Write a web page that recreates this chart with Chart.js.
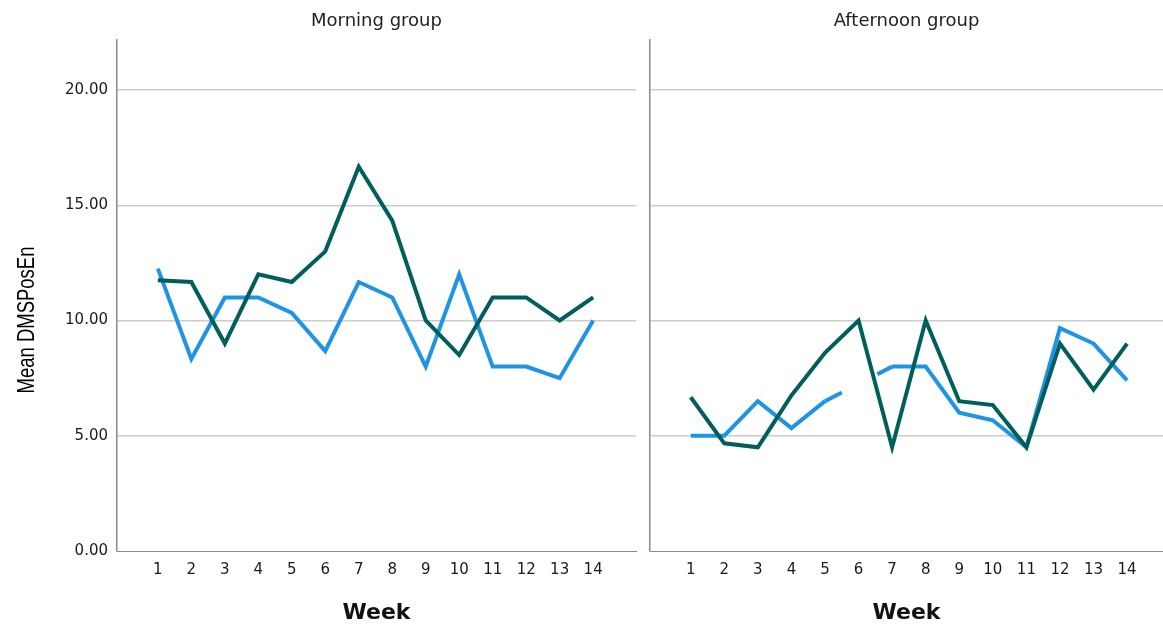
<!DOCTYPE html>
<html>
<head>
<meta charset="utf-8">
<script src="https://cdn.jsdelivr.net/npm/chart.js@4/dist/chart.umd.min.js"></script>
<style>
  html, body { margin: 0; padding: 0; background: #fff; }
  #wrap { position: relative; width: 1163px; height: 626px; overflow: hidden; }
  #left { position: absolute; left: 0; top: 0; }
  #right { position: absolute; left: 640px; top: 0; }
</style>
</head>
<body>
<div id="wrap">
  <canvas id="left" width="640" height="626"></canvas>
  <canvas id="right" width="523" height="626"></canvas>
</div>
<script>
// weeks on the x axis
const weeks = [1, 2, 3, 4, 5, 6, 7, 8, 9, 10, 11, 12, 13, 14];
const yTicks = [0, 5, 10, 15, 20];

// Morning group
const morningDark = [11.75, 11.67, 9.0, 12.0, 11.67, 13.0, 16.67, 14.33, 10.0, 8.5, 11.0, 11.0, 10.0, 11.0];
const morningLight = [12.25, 8.33, 11.0, 11.0, 10.33, 8.67, 11.67, 11.0, 8.0, 12.0, 8.0, 8.0, 7.5, 10.0];

// Afternoon group (week 6 missing for the light series)
const afternoonDark = [6.67, 4.67, 4.5, 6.75, 8.6, 10.0, 4.5, 10.0, 6.5, 6.33, 4.5, 9.0, 7.0, 9.0];
const afternoonLight = [5.0, 5.0, 6.5, 5.33, 6.5, null, 8.0, 8.0, 6.0, 5.67, 4.5, 9.67, 9.0, 7.4];

const DARK = "#005f5a";
const LIGHT = "#1f93e6";
const AXIS = "#8a8a8a";
const GRID = "#cccccc";
const FONT = "'DejaVu Sans', 'Liberation Sans', Arial, sans-serif";

// the light line is broken where a week is missing
function gapDash(ctx) {
  if (!ctx.p0.skip && !ctx.p1.skip) return undefined;
  const pts = ctx.chart.getDatasetMeta(ctx.datasetIndex).data;
  const a = pts[ctx.p0.skip ? ctx.p0DataIndex - 1 : ctx.p0DataIndex];
  const b = pts[ctx.p1.skip ? ctx.p1DataIndex + 1 : ctx.p1DataIndex];
  if (!a || !b) return undefined;
  const L = Math.hypot(b.x - a.x, b.y - a.y);
  return [L * 0.25, L * 0.53, L];
}

// condensed y title, like the original
const yTitle = {
  id: "yTitle",
  afterDraw(chart, args, opts) {
    if (!opts.text) return;
    const c = chart.ctx;
    c.save();
    c.translate(27, 320);
    c.rotate(-Math.PI / 2);
    c.scale(0.77, 1);
    c.font = "24px 'Liberation Sans', Arial, sans-serif";
    c.fillStyle = "#000";
    c.textAlign = "center";
    c.textBaseline = "middle";
    c.fillText(opts.text, 0, 0);
    c.restore();
  },
};

function makeChart(id, title, dark, light, opts) {
  const ctx = document.getElementById(id).getContext("2d");
  return new Chart(ctx, {
    type: "line",
    data: {
      labels: weeks,
      datasets: [
        {
          label: "dark",
          data: dark,
          borderColor: DARK,
          borderWidth: 4,
          pointRadius: 0,
          tension: 0,
          borderJoinStyle: "miter",
          order: 0,
        },
        {
          label: "light",
          data: light,
          borderColor: LIGHT,
          borderWidth: 4,
          pointRadius: 0,
          tension: 0,
          borderJoinStyle: "miter",
          spanGaps: true,
          segment: { borderDash: gapDash },
          order: 1,
        },
      ],
    },
    plugins: [yTitle],
    options: {
      responsive: false,
      animation: false,
      devicePixelRatio: 1,
      layout: { padding: { left: 0, right: opts.padRight, top: 0, bottom: 0 } },
      plugins: {
        legend: { display: false },
        tooltip: { enabled: false },
        yTitle: { text: opts.yTitle },
      },
      scales: {
        x: {
          type: "linear",
          position: "bottom",
          min: opts.xMin,
          max: opts.xMax,
          afterBuildTicks: (scale) => {
            scale.ticks = weeks.map((w) => ({ value: w }));
          },
          afterFit: (scale) => {
            scale.height = 75;
          },
          grid: { display: false, drawTicks: false },
          border: { display: true, color: AXIS, width: 1 },
          ticks: {
            padding: 10,
            color: "#1a1a1a",
            font: { family: FONT, size: 15 },
            autoSkip: false,
            maxRotation: 0,
          },
          title: {
            display: true,
            text: "Week",
            color: "#111",
            font: { family: FONT, size: 22, weight: "bold" },
            padding: { top: 0, bottom: 0 },
          },
        },
        x2: {
          type: "linear",
          position: "top",
          afterFit: (scale) => {
            scale.height = 40;
          },
          grid: { display: false, drawTicks: false },
          border: { display: false },
          ticks: { display: false },
          title: {
            display: true,
            text: title,
            color: "#222",
            font: { family: FONT, size: 18 },
            padding: { top: 11, bottom: 0 },
          },
        },
        y: {
          min: 0,
          max: 22.17,
          afterBuildTicks: (scale) => {
            scale.ticks = yTicks.map((v) => ({ value: v }));
          },
          afterFit: (scale) => {
            scale.width = opts.yWidth;
          },
          grid: {
            drawTicks: false,
            tickLength: 0,
            color: (c) => (c.tick && c.tick.value === 0 ? "rgba(0,0,0,0)" : GRID),
            lineWidth: 1.5,
          },
          border: { display: true, color: AXIS, width: 1.5 },
          ticks: {
            display: opts.showY,
            padding: 9,
            color: "#1a1a1a",
            font: { family: FONT, size: 15 },
            callback: (v) => Number(v).toFixed(2),
          },
          title: { display: false },
        },
      },
    },
  });
}

makeChart("left", "Morning group", morningDark, morningLight, {
  xMin: -0.22,
  xMax: 15.28,
  padRight: 4,
  yWidth: 117,
  showY: true,
  yTitle: "Mean DMSPosEn",
});

makeChart("right", "Afternoon group", afternoonDark, afternoonLight, {
  xMin: -0.213,
  xMax: 15.07,
  padRight: 0,
  yWidth: 10,
  showY: false,
  yTitle: "",
});
</script>
</body>
</html>
